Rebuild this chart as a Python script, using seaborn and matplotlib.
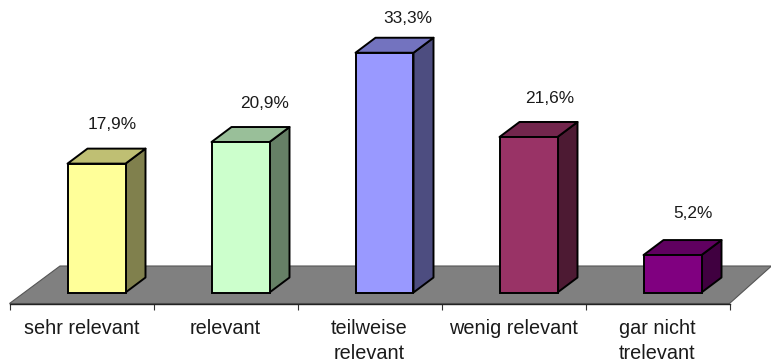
import matplotlib
matplotlib.use("Agg")
import matplotlib.pyplot as plt
from matplotlib.colors import to_rgb
from matplotlib.patches import Polygon
import pandas as pd
import seaborn as sns

categories = ["sehr relevant", "relevant", "teilweise\nrelevant", "wenig relevant", "gar nicht\ntrelevant"]
shares = [17.9, 20.9, 33.3, 21.6, 5.2]
share_labels = ["17,9%", "20,9%", "33,3%", "21,6%", "5,2%"]
bar_colors = ["#FFFF99", "#CCFFCC", "#9999FF", "#993366", "#800080"]

# Pixel-based layout of the pseudo-3D scene
W, H = 771, 363
PLOT_LEFT, PLOT_RIGHT = 9.5, 729.5
FRONT_Y, BASE_Y = 303.5, 292.5
PX_PER_UNIT = 7.2
CAT_PX = (PLOT_RIGHT - PLOT_LEFT) / len(categories)
DEPTH_X, DEPTH_Y = 20 / CAT_PX, 15 / PX_PER_UNIT
BAR_WIDTH = 58 / CAT_PX
BAR_SHIFT = 15 / CAT_PX  # bars sit further back on the floor, so they appear shifted right
EDGE = 1.4
label_offsets = [(16, 39), (24, 39), (23, 34), (21, 38), (20, 42)]

sns.set_theme(style="white")
plt.rcParams["font.family"] = ["Liberation Sans", "DejaVu Sans"]

fig = plt.figure(figsize=(W / 100, H / 100), dpi=100, facecolor="white")
ax = fig.add_axes([PLOT_LEFT / W, 1 - FRONT_Y / H, (PLOT_RIGHT - PLOT_LEFT) / W, FRONT_Y / H])
ax.patch.set_alpha(0)

df = pd.DataFrame({"category": categories, "share": shares})
sns.barplot(data=df, x="category", y="share", hue="category", palette=bar_colors,
            legend=False, width=BAR_WIDTH, edgecolor="black", linewidth=EDGE,
            saturation=1, ax=ax, zorder=3)
for bar in ax.patches:
    bar.set_x(bar.get_x() + BAR_SHIFT)

ax.set_xlim(-0.5, len(categories) - 0.5)
ax.set_ylim(-(FRONT_Y - BASE_Y) / PX_PER_UNIT, BASE_Y / PX_PER_UNIT)

# Grey floor plane behind the bars
floor_front = ax.get_ylim()[0]
floor_back = (FRONT_Y - 266) / PX_PER_UNIT + floor_front
x0, x1 = ax.get_xlim()
ax.add_patch(Polygon([(x0, floor_front), (x1, floor_front),
                      (x1 + 42 / CAT_PX, floor_back), (x0 + 50.5 / CAT_PX, floor_back)],
                     closed=True, facecolor="#808080", edgecolor="#555555", linewidth=0.8,
                     zorder=1, clip_on=False))


def shade(color, factor):
    return tuple(c * factor for c in to_rgb(color))


# Side and top faces extruded from each front face
for i, (value, color) in enumerate(zip(shares, bar_colors)):
    left, right = i + BAR_SHIFT - BAR_WIDTH / 2, i + BAR_SHIFT + BAR_WIDTH / 2
    side = [(right, 0), (right + DEPTH_X, DEPTH_Y), (right + DEPTH_X, value + DEPTH_Y), (right, value)]
    top = [(left, value), (right, value), (right + DEPTH_X, value + DEPTH_Y), (left + DEPTH_X, value + DEPTH_Y)]
    ax.add_patch(Polygon(side, closed=True, facecolor=shade(color, 0.5), edgecolor="black",
                         linewidth=EDGE, zorder=2, clip_on=False, joinstyle="round"))
    ax.add_patch(Polygon(top, closed=True, facecolor=shade(color, 0.75), edgecolor="black",
                         linewidth=EDGE, zorder=2, clip_on=False, joinstyle="round"))
    ax.annotate(share_labels[i], (i + BAR_SHIFT, value),
                xytext=(label_offsets[i][0] * 0.72, label_offsets[i][1] * 0.72),
                textcoords="offset points", ha="center", va="center", fontsize=12.4,
                color="#1a1a1a", annotation_clip=False)

# Category labels centred between tick marks at the category boundaries
sns.despine(ax=ax, left=True, top=True, right=True)
ax.spines["bottom"].set_color("#222222")
ax.spines["bottom"].set_linewidth(1.0)
ax.spines["bottom"].set_zorder(4)
ax.set_xlabel("")
ax.set_ylabel("")
ax.set_yticks([])
ax.set_xticks(range(len(categories)))
ax.set_xticklabels(categories, fontsize=14.3, color="#1a1a1a", linespacing=1.42)
ax.set_xticks([i - 0.5 for i in range(len(categories) + 1)], minor=True)
ax.tick_params(axis="x", which="major", length=0, pad=11)
ax.tick_params(axis="x", which="minor", length=4, width=0.8, color="#333333", bottom=True)

fig.savefig("out.png", dpi=100)
